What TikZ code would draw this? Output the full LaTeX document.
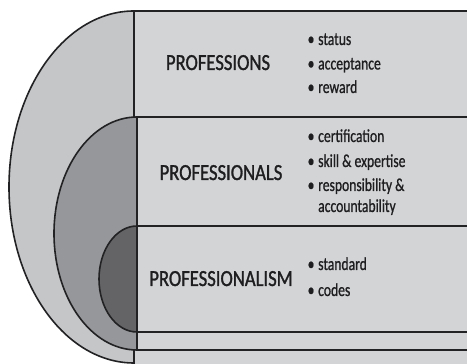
\documentclass[tikz,border=0pt]{standalone}
\usepackage{fontspec}
\newfontfamily\cft[FakeStretch=0.81,FakeBold=1.2]{Carlito}
\newfontfamily\cfi[FakeStretch=0.745,FakeBold=0.8]{Carlito}
\definecolor{rectc}{RGB}{211,212,214}
\definecolor{outerc}{RGB}{197,198,200}
\definecolor{midc}{RGB}{150,151,154}
\definecolor{darkc}{RGB}{100,100,102}
\definecolor{linec}{RGB}{34,34,36}
\definecolor{textc}{RGB}{30,30,32}
\tikzset{
  edge/.style={draw=linec, line width=1.6pt, line join=round},
  title/.style={inner sep=0pt, anchor=base, text=textc, font=\cft\fontsize{23}{23}\selectfont},
  item/.style={inner sep=0pt, anchor=base west, text=textc, font=\cfi\fontsize{18.3}{18.3}\selectfont},
}
\begin{document}
\begin{tikzpicture}[x=1pt,y=1pt]
\useasboundingbox (0,0) rectangle (467,364);
\begin{scope}
\clip (0,0) rectangle (467,364);
\fill[rectc] (134,0) rectangle (467,353);
\fill[outerc] (134,353) arc[start angle=90,end angle=270,x radius=125,y radius=176] -- cycle;
\fill[midc] (137,247) arc[start angle=90,end angle=270,x radius=83,y radius=116.5] -- cycle;
\fill[darkc] (137,138) arc[start angle=90,end angle=270,x radius=38,y radius=53] -- cycle;
\coordinate (o1) at (467,353);
\coordinate (o2) at (134,353);
\coordinate (m1) at (467,247);
\coordinate (m2) at (137,247);
\coordinate (m3) at (467,14);
\coordinate (i1) at (467,138);
\coordinate (i2) at (137,138);
\coordinate (i3) at (467,32);
\draw[edge] (o1) -- (o2) arc[start angle=90,end angle=270,x radius=125,y radius=176];
\draw[edge] (m1) -- (m2) arc[start angle=90,end angle=270,x radius=83,y radius=116.5] -- (m3);
\draw[edge] (i1) -- (i2) arc[start angle=90,end angle=270,x radius=38,y radius=53] -- (i3);
\draw[edge] (o2) -- (134,247);
\draw[edge] (134,14) -- (134,-2);
\draw[edge] (m2) -- (137,14);
\end{scope}
\node[title] (t1) at (218,294) {PROFESSIONS};
\node[title] (t2) at (221,184) {PROFESSIONALS};
\node[title] (t3) at (221,78) {PROFESSIONALISM};
\node[item] (b1) at (307.5,319) {•};
\node[item] (s1) at (318,319) {status};
\node[item] (b2) at (307.5,294.5) {•};
\node[item] (s2) at (318,294.5) {acceptance};
\node[item] (b3) at (307.5,271) {•};
\node[item] (s3) at (318,271) {reward};
\node[item] (b4) at (307.5,222) {•};
\node[item] (s4) at (318,222) {certification};
\node[item] (b5) at (307.5,197) {•};
\node[item] (s5) at (318,197) {skill \& expertise};
\node[item] (b6) at (307.5,173) {•};
\node[item] (s6) at (318,173) {responsibility \&};
\node[item] (s7) at (318,152) {accountability};
\node[item] (b8) at (307.5,94) {•};
\node[item] (s8) at (318,94) {standard};
\node[item] (b9) at (307.5,68) {•};
\node[item] (s9) at (318,68) {codes};
\end{tikzpicture}
\end{document}
